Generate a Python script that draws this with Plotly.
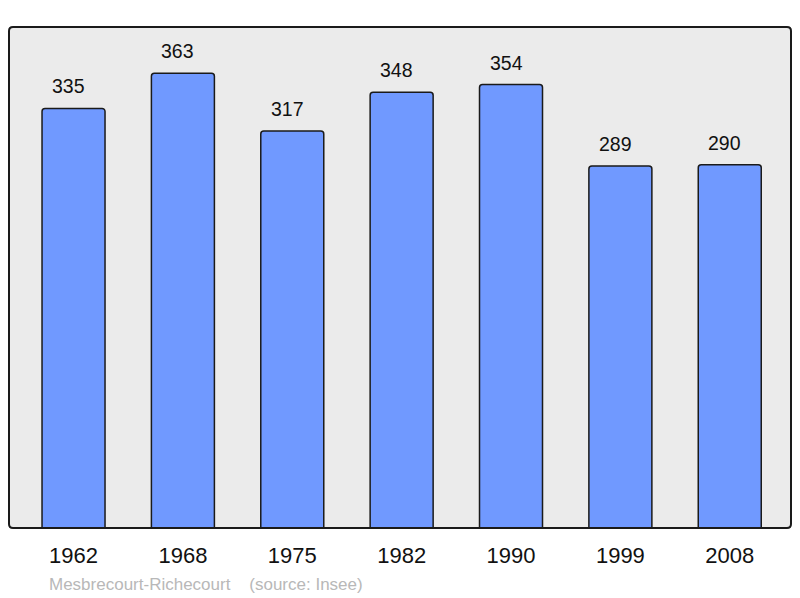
import plotly.graph_objects as go

years = ['1962', '1968', '1975', '1982', '1990', '1999', '2008']
population = [335, 363, 317, 348, 354, 289, 290]
commune = 'Mesbrecourt-Richecourt'
source = '(source: Insee)'

fig = go.Figure()
fig.add_trace(go.Bar(
    x=years,
    y=population,
    width=0.576,
    marker=dict(color='#7099ff', line=dict(color='#1a1a1a', width=1.5),
                cornerradius=3),
    hoverinfo='x+y',
))

# valeurs au-dessus des barres (index : les années sont lues comme nombres)
for i, val in enumerate(population):
    fig.add_annotation(x=i, y=val, text=str(val), showarrow=False,
                       xshift=-5, yshift=22, font=dict(size=19.5, color='#111'))

# légende en bas
fig.add_annotation(
    x=0.049, y=-0.112, xref='paper', yref='paper', xanchor='left', yanchor='middle',
    text=commune + '&nbsp;&nbsp;&nbsp;&nbsp;' + source, showarrow=False,
    font=dict(size=17, color='#b8b8b8'))

# cadre aux coins arrondis
rx, ry = 4 / 782, 4 / 501
frame = (f'M {rx},0 L {1 - rx},0 Q 1,0 1,{ry} L 1,{1 - ry} Q 1,1 {1 - rx},1 '
         f'L {rx},1 Q 0,1 0,{1 - ry} L 0,{ry} Q 0,0 {rx},0 Z')

# la page a une marge de 8px, on compense
fig.update_layout(
    width=792, height=590,
    margin=dict(l=1, r=9, t=19, b=70),
    paper_bgcolor='white',
    plot_bgcolor='#ebebeb',
    font=dict(family='Liberation Sans, Arial, sans-serif'),
    showlegend=False,
    xaxis=dict(type='category', range=[-0.59, 6.56], showgrid=False,
               ticks='outside', ticklen=8, tickcolor='rgba(0,0,0,0)',
               tickfont=dict(size=22, color='#111'), fixedrange=True),
    yaxis=dict(range=[0, 400], showgrid=False, showticklabels=False,
               zeroline=False, fixedrange=True),
    shapes=[dict(type='path', xref='paper', yref='paper', path=frame,
                 line=dict(color='#1a1a1a', width=2), layer='above')],
)

fig.write_html('out.html')
